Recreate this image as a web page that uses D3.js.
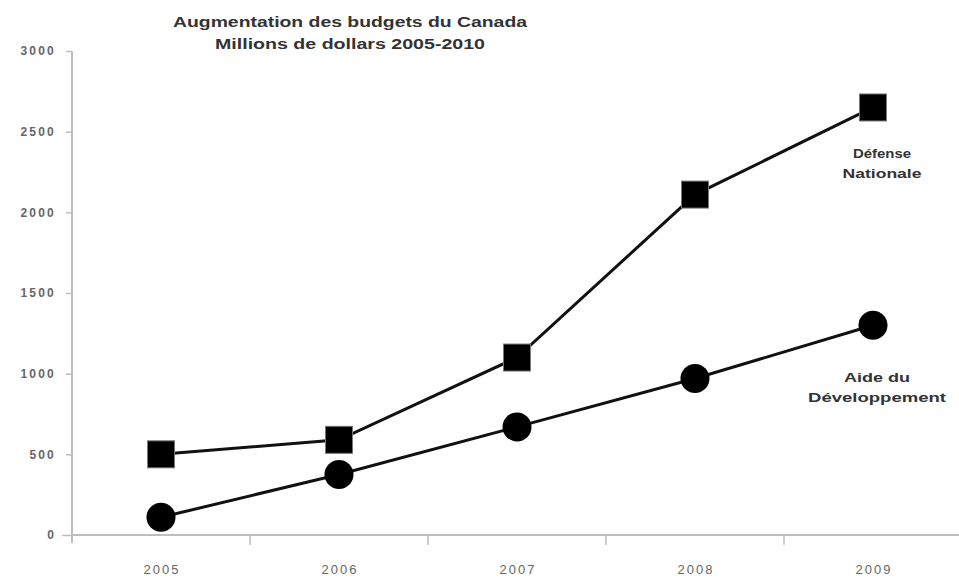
<!DOCTYPE html>
<html>
<head>
<meta charset="utf-8">
<script src="https://cdn.jsdelivr.net/npm/d3@7"></script>
<style>
  body { margin: 0; background: #fff; }
  text { font-family: "Liberation Sans", Arial, sans-serif; }
</style>
</head>
<body>
<div id="chart"></div>
<script>
// Data
const years = ["2005", "2006", "2007", "2008", "2009"];
const defense = [500, 590, 1100, 2110, 2650];
const aide = [110, 375, 670, 970, 1300];
const yTicks = [0, 500, 1000, 1500, 2000, 2500, 3000];

const width = 959;
const height = 578;
const margin = { top: 51, right: -3, bottom: 43, left: 72 };

const svg = d3.select("#chart")
    .append("svg")
    .attr("width", width)
    .attr("height", height)
    .style("background", "#fff");

const x = d3.scaleBand()
    .domain(years)
    .range([margin.left, width - margin.right]);

const y = d3.scaleLinear()
    .domain([0, 3000])
    .range([height - margin.bottom, margin.top]);

const axisColor = "#bdbdbd";

// Title (the original glyphs are stretched wide)
const titleLines = [
    { text: "Augmentation des budgets du Canada", y: 27, len: 354 },
    { text: "Millions de dollars 2005-2010", y: 49, len: 270 }
];
titleLines.forEach(t => {
    svg.append("text")
        .attr("x", 350)
        .attr("y", t.y)
        .attr("text-anchor", "middle")
        .attr("font-size", "14px")
        .attr("font-weight", "bold")
        .attr("fill", "#333")
        .attr("textLength", t.len)
        .attr("lengthAdjust", "spacingAndGlyphs")
        .text(t.text);
});

// Y axis
const yAxis = svg.append("g")
    .attr("transform", `translate(${margin.left},0)`)
    .call(d3.axisLeft(y).tickValues(yTicks).tickFormat(d3.format("d")).tickSize(6).tickPadding(10));
yAxis.select(".domain").remove();
yAxis.append("line")
    .attr("x1", 0).attr("x2", 0)
    .attr("y1", y(3000)).attr("y2", y(0) + 8)
    .attr("stroke", axisColor).attr("stroke-width", 2);
yAxis.selectAll(".tick line").attr("stroke", axisColor).attr("stroke-width", 1.5);
yAxis.selectAll(".tick").filter(d => d === 0).select("line").attr("x2", -10);
yAxis.selectAll(".tick text")
    .attr("fill", "#666")
    .attr("font-size", "12px")
    .attr("font-weight", "bold")
    .attr("letter-spacing", "2.2px");

// X axis: line plus ticks at category boundaries
const xAxis = svg.append("g")
    .attr("transform", `translate(0,${y(0)})`)
    .call(d3.axisBottom(x).tickSize(0).tickPadding(30));
xAxis.select(".domain").remove();
xAxis.append("line")
    .attr("x1", margin.left).attr("x2", width)
    .attr("y1", 0).attr("y2", 0)
    .attr("stroke", axisColor).attr("stroke-width", 2);
xAxis.selectAll(".boundary")
    .data(years.slice(1))
    .enter().append("line")
    .attr("x1", d => x(d)).attr("x2", d => x(d))
    .attr("y1", 0).attr("y2", 10)
    .attr("stroke", axisColor).attr("stroke-width", 1.5);
xAxis.selectAll(".tick text")
    .attr("fill", "#666")
    .attr("font-size", "13px")
    .attr("letter-spacing", "2px")
    .attr("dx", "1px");

const cx = d => x(d) + x.bandwidth() / 2;

const line = d3.line()
    .x(d => cx(d.year))
    .y(d => y(d.value));

const defPts = years.map((yr, i) => ({ year: yr, value: defense[i] }));
const aidePts = years.map((yr, i) => ({ year: yr, value: aide[i] }));

// Lines
[defPts, aidePts].forEach(pts => {
    svg.append("path")
        .datum(pts)
        .attr("fill", "none")
        .attr("stroke", "#111")
        .attr("stroke-width", 3)
        .attr("d", line);
});

// Markers
const sq = 27;
svg.append("g")
    .selectAll("rect")
    .data(defPts)
    .enter().append("rect")
    .attr("x", d => cx(d.year) - sq / 2)
    .attr("y", d => y(d.value) - sq / 2)
    .attr("width", sq)
    .attr("height", sq)
    .attr("fill", "#000")
    .attr("stroke", "#777")
    .attr("stroke-width", 1);

svg.append("g")
    .selectAll("circle")
    .data(aidePts)
    .enter().append("circle")
    .attr("cx", d => cx(d.year))
    .attr("cy", d => y(d.value))
    .attr("r", 14.5)
    .attr("fill", "#000");

// Series labels
const seriesLabels = [
    { lines: ["Défense", "Nationale"], lens: [58, 79], x: 882, y: 158 },
    { lines: ["Aide du", "Développement"], lens: [66, 138], x: 877, y: 382 }
];
seriesLabels.forEach(l => {
    l.lines.forEach((t, i) => {
        svg.append("text")
            .attr("x", l.x)
            .attr("y", l.y + i * 20)
            .attr("text-anchor", "middle")
            .attr("font-size", "13px")
            .attr("font-weight", "bold")
            .attr("fill", "#333")
            .attr("textLength", l.lens[i])
            .attr("lengthAdjust", "spacingAndGlyphs")
            .text(t);
    });
});
</script>
</body>
</html>
